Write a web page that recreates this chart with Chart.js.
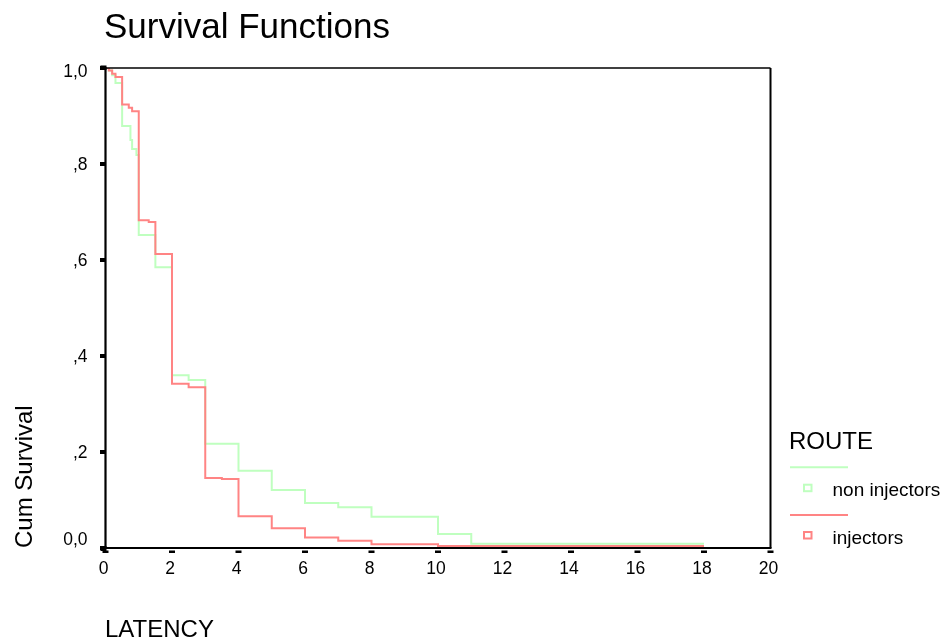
<!DOCTYPE html>
<html>
<head>
<meta charset="utf-8">
<script src="https://cdn.jsdelivr.net/npm/chart.js@4.4.1/dist/chart.umd.min.js"></script>
<style>
html,body{margin:0;padding:0;background:#fff;}
#wrap{width:945px;height:642px;position:relative;}
</style>
</head>
<body>
<div id="wrap"><canvas id="c" width="945" height="642"></canvas></div>
<script>
// ---- data ----
const chartTitle = 'Survival Functions';
const xTitle = 'LATENCY';
const yTitle = 'Cum Survival';
const legendTitle = 'ROUTE';
const seriesNames = ['non injectors', 'injectors'];

const nonInjTime = [0, 0.1, 0.2, 0.3, 0.5, 0.75, 0.8, 0.93, 1, 1.5, 2, 2.5, 3, 4, 5, 6, 7, 8, 10, 11, 18];
const nonInjSurv = [1.0, 0.995, 0.985, 0.969, 0.879, 0.85, 0.831, 0.819, 0.652, 0.585, 0.360, 0.350, 0.217, 0.161, 0.121, 0.094, 0.085, 0.065, 0.029, 0.009, 0.009];

const injTime = [0, 0.1, 0.2, 0.3, 0.5, 0.7, 0.8, 1, 1.3, 1.5, 2, 2.5, 3, 3.5, 4, 5, 6, 7, 8, 10, 18];
const injSurv = [1.0, 0.995, 0.988, 0.981, 0.924, 0.917, 0.910, 0.683, 0.679, 0.6125, 0.342, 0.335, 0.146, 0.144, 0.066, 0.041, 0.022, 0.015, 0.008, 0.004, 0.004];

const xTickLabels = ['0', '2', '4', '6', '8', '10', '12', '14', '16', '18', '20'];
const yTickLabels = ['0,0', ',2', ',4', ',6', ',8', '1,0'];

const greenColor = '#bfffbf';
const redColor = '#ff8484';
const FONT = '"Liberation Sans", Arial, Helvetica, sans-serif';

function toPoints(t, s) { return t.map((v, i) => ({ x: v, y: s[i] })); }

const decor = {
  id: 'decor',
  afterDraw(chart) {
    const ctx = chart.ctx;
    const a = chart.chartArea;
    const xs = chart.scales.x, ys = chart.scales.y;
    ctx.save();
    ctx.fillStyle = '#000';
    ctx.strokeStyle = '#000';
    // frame
    ctx.lineWidth = 1.5;
    ctx.beginPath(); ctx.moveTo(a.left, a.top); ctx.lineTo(a.right, a.top); ctx.stroke();
    ctx.lineWidth = 2;
    ctx.beginPath(); ctx.moveTo(a.right, a.top); ctx.lineTo(a.right, a.bottom); ctx.stroke();
    ctx.lineWidth = 2.2;
    ctx.beginPath(); ctx.moveTo(a.left, a.top - 1); ctx.lineTo(a.left, a.bottom); ctx.lineTo(a.right + 1, a.bottom); ctx.stroke();

    // y ticks + labels
    ctx.font = '17.5px ' + FONT;
    ctx.textAlign = 'right';
    ctx.textBaseline = 'alphabetic';
    ys.ticks.forEach((t, i) => {
      const py = ys.getPixelForValue(t.value);
      ctx.fillRect(a.left - 5.5, py - 2, 5, 4);
      let base = py + 6;
      if (i === 0) base = py - 3;
      if (i === ys.ticks.length - 1) base = py + 9;
      ctx.fillText(yTickLabels[i] !== undefined ? yTickLabels[i] : String(t.value), 87.5, base);
    });
    // x ticks + labels
    ctx.textAlign = 'center';
    xs.ticks.forEach((t, i) => {
      const px = xs.getPixelForValue(t.value);
      ctx.fillRect(px - 3, a.bottom + 2.5, 6, 2.5);
      ctx.fillText(xTickLabels[i] !== undefined ? xTickLabels[i] : String(t.value), px - 2, 573.5);
    });
    // corner squares
    ctx.fillRect(a.left - 5, a.top - 2.5, 6, 4.5);
    ctx.fillRect(a.left - 5, a.bottom - 2, 6, 5);

    // titles
    ctx.textAlign = 'left';
    ctx.font = '35px ' + FONT;
    ctx.fillText(chartTitle, 104, 38);
    ctx.font = '24px ' + FONT;
    ctx.fillText(xTitle, 105, 637);
    ctx.save();
    ctx.translate(31.5, 548);
    ctx.rotate(-Math.PI / 2);
    ctx.fillText(yTitle, 0, 0);
    ctx.restore();

    // legend
    ctx.font = '24px ' + FONT;
    ctx.fillText(legendTitle, 789, 448.5);
    const cols = [greenColor, redColor];
    const lineY = [467.3, 515];
    const boxY = [487.7, 535];
    const textY = [496, 544];
    ctx.font = '19px ' + FONT;
    for (let i = 0; i < 2; i++) {
      ctx.strokeStyle = cols[i];
      ctx.lineWidth = 2;
      ctx.beginPath(); ctx.moveTo(790, lineY[i]); ctx.lineTo(848, lineY[i]); ctx.stroke();
      ctx.strokeRect(804, boxY[i] - 3, 7.5, 6.5);
      ctx.fillStyle = '#000';
      ctx.fillText(seriesNames[i], 832.5, textY[i]);
    }
    ctx.restore();
  }
};

new Chart(document.getElementById('c'), {
  type: 'line',
  data: {
    datasets: [
      {
        label: seriesNames[1],
        data: toPoints(injTime, injSurv),
        borderColor: redColor,
        borderWidth: 2,
        stepped: true,
        pointRadius: 0,
        fill: false,
        order: 0
      },
      {
        label: seriesNames[0],
        data: toPoints(nonInjTime, nonInjSurv),
        borderColor: greenColor,
        borderWidth: 2,
        stepped: true,
        pointRadius: 0,
        fill: false,
        order: 1
      }
    ]
  },
  options: {
    responsive: false,
    animation: false,
    devicePixelRatio: 1,
    layout: { padding: { left: 105.5, right: 174.5, top: 68, bottom: 94 } },
    plugins: { legend: { display: false }, title: { display: false }, tooltip: { enabled: false } },
    scales: {
      x: {
        type: 'linear', min: 0, max: 20,
        ticks: { display: false, stepSize: 2 },
        grid: { display: false, drawTicks: false },
        border: { display: false }
      },
      y: {
        type: 'linear', min: 0, max: 1,
        ticks: { display: false, stepSize: 0.2 },
        grid: { display: false, drawTicks: false },
        border: { display: false }
      }
    }
  },
  plugins: [decor]
});
</script>
</body>
</html>
